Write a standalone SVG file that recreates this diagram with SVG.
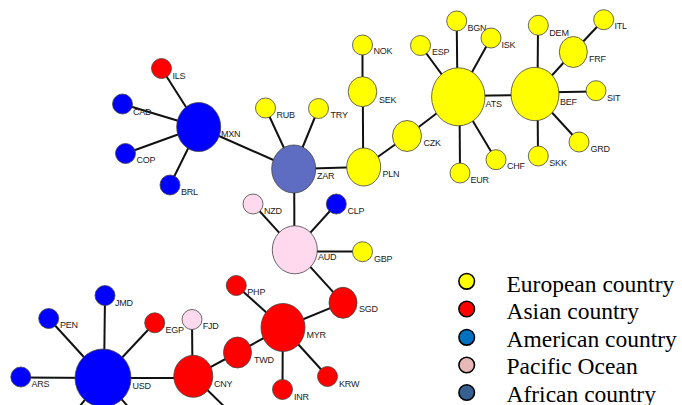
<svg xmlns="http://www.w3.org/2000/svg" width="682" height="405" viewBox="0 0 682 405">
<style>
.e{stroke:#111;stroke-width:2;fill:none}
.n{stroke:#444;stroke-width:0.8}
.y{fill:#ffff00}.r{fill:#ff0000}.b{fill:#0000ff}.z{fill:#5e6cc1}.p{fill:#ffdaef}
.t{font-family:"Liberation Sans",Arial,sans-serif;font-size:9px;fill:#222;letter-spacing:-0.2px}
.lg{font-family:"Liberation Serif","Times New Roman",serif;font-size:23.5px;fill:#000}
.lc{stroke:#000;stroke-width:1.6}
</style>
<rect width="682" height="405" fill="#fff"/>
<g id="connectors">
<line class="e" x1="161.5" y1="68.5" x2="198.7" y2="127"/>
<line class="e" x1="122.5" y1="104" x2="198.7" y2="127"/>
<line class="e" x1="125.5" y1="153.5" x2="198.7" y2="127"/>
<line class="e" x1="170" y1="185" x2="198.7" y2="127"/>
<line class="e" x1="198.7" y1="127" x2="293.7" y2="169"/>
<line class="e" x1="265.5" y1="108" x2="293.7" y2="169"/>
<line class="e" x1="318.5" y1="108.5" x2="293.7" y2="169"/>
<line class="e" x1="293.7" y1="169" x2="363.7" y2="167"/>
<line class="e" x1="362.5" y1="45" x2="362.5" y2="91.7"/>
<line class="e" x1="362.8" y1="91.7" x2="363.2" y2="167"/>
<line class="e" x1="363.7" y1="167" x2="407" y2="136"/>
<line class="e" x1="407" y1="136" x2="458.3" y2="96.8"/>
<line class="e" x1="420.5" y1="45.5" x2="458.3" y2="96.8"/>
<line class="e" x1="456.7" y1="21" x2="457.5" y2="96.8"/>
<line class="e" x1="491" y1="38" x2="458.3" y2="96.8"/>
<line class="e" x1="460" y1="173" x2="459.5" y2="96.8"/>
<line class="e" x1="496" y1="159.7" x2="458.3" y2="96.8"/>
<line class="e" x1="458.3" y1="96" x2="535" y2="95"/>
<line class="e" x1="538" y1="25.3" x2="537.5" y2="94"/>
<line class="e" x1="573.3" y1="52" x2="535" y2="94"/>
<line class="e" x1="603.7" y1="19.7" x2="573.3" y2="52"/>
<line class="e" x1="596" y1="91.5" x2="535" y2="92.5"/>
<line class="e" x1="579" y1="142" x2="535" y2="94"/>
<line class="e" x1="538" y1="156" x2="537.5" y2="94"/>
<line class="e" x1="294.2" y1="169" x2="294.4" y2="249.8"/>
<line class="e" x1="253" y1="204" x2="294.8" y2="249.8"/>
<line class="e" x1="336.3" y1="204" x2="294.8" y2="249.8"/>
<line class="e" x1="294.8" y1="251.5" x2="362.5" y2="251.5"/>
<line class="e" x1="294.8" y1="249.8" x2="343" y2="302.8"/>
<line class="e" x1="343" y1="302.8" x2="283" y2="327.5"/>
<line class="e" x1="236.3" y1="285.5" x2="283" y2="327.5"/>
<line class="e" x1="282.8" y1="327.5" x2="282.5" y2="389.5"/>
<line class="e" x1="327.5" y1="376.5" x2="283" y2="327.5"/>
<line class="e" x1="283" y1="327.5" x2="237.5" y2="352.5"/>
<line class="e" x1="237.5" y1="352.5" x2="193.3" y2="376.3"/>
<line class="e" x1="192" y1="319.5" x2="192.5" y2="376.3"/>
<line class="e" x1="193.3" y1="376.3" x2="236" y2="418"/>
<line class="e" x1="103" y1="378" x2="193.3" y2="378"/>
<line class="e" x1="154.7" y1="322.8" x2="103" y2="378"/>
<line class="e" x1="105" y1="295.5" x2="104" y2="378"/>
<line class="e" x1="48.7" y1="318.5" x2="103" y2="378"/>
<line class="e" x1="20.8" y1="377.5" x2="103" y2="378"/>
<line class="e" x1="103" y1="378" x2="70" y2="418"/>
<line class="e" x1="103" y1="378" x2="138" y2="418"/>
</g>
<g id="ILS"><circle class="n r" cx="161.5" cy="68.5" r="10"/><text class="t" x="172.5" y="79">ILS</text></g>
<g id="CAD"><circle class="n b" cx="122.5" cy="104" r="10"/><text class="t" x="133" y="115">CAD</text></g>
<g id="COP"><circle class="n b" cx="125.5" cy="153.5" r="10"/><text class="t" x="136.5" y="163">COP</text></g>
<g id="BRL"><circle class="n b" cx="170" cy="185" r="10"/><text class="t" x="181" y="195">BRL</text></g>
<g id="MXN"><ellipse class="n b" cx="198.7" cy="127" rx="22" ry="24.5"/><text class="t" x="221" y="137">MXN</text></g>
<g id="RUB"><circle class="n y" cx="265.5" cy="108" r="10"/><text class="t" x="276.5" y="117.5">RUB</text></g>
<g id="TRY"><circle class="n y" cx="318.5" cy="108.5" r="10"/><text class="t" x="330.5" y="118">TRY</text></g>
<g id="ZAR"><ellipse class="n z" cx="293.7" cy="169" rx="22" ry="24"/><text class="t" x="317" y="179">ZAR</text></g>
<g id="NOK"><circle class="n y" cx="362.5" cy="45" r="10"/><text class="t" x="373.5" y="54">NOK</text></g>
<g id="SEK"><ellipse class="n y" cx="362.5" cy="91.7" rx="14.3" ry="15"/><text class="t" x="379" y="102.5">SEK</text></g>
<g id="PLN"><ellipse class="n y" cx="363.7" cy="167" rx="17" ry="19"/><text class="t" x="382.5" y="177">PLN</text></g>
<g id="CZK"><ellipse class="n y" cx="407" cy="136" rx="14.5" ry="15.5"/><text class="t" x="423.5" y="145.5">CZK</text></g>
<g id="ESP"><circle class="n y" cx="420.5" cy="45.5" r="10"/><text class="t" x="432" y="55">ESP</text></g>
<g id="BGN"><circle class="n y" cx="456.7" cy="21" r="10"/><text class="t" x="467.5" y="31">BGN</text></g>
<g id="ISK"><circle class="n y" cx="491" cy="38" r="10"/><text class="t" x="501.5" y="47.5">ISK</text></g>
<g id="ATS"><ellipse class="n y" cx="458.3" cy="96.8" rx="26.7" ry="29"/><text class="t" x="485.5" y="106.5">ATS</text></g>
<g id="EUR"><circle class="n y" cx="460" cy="173" r="10"/><text class="t" x="470.5" y="182.5">EUR</text></g>
<g id="CHF"><circle class="n y" cx="496" cy="159.7" r="10"/><text class="t" x="507" y="169">CHF</text></g>
<g id="BEF"><ellipse class="n y" cx="535" cy="94" rx="24" ry="26.7"/><text class="t" x="560" y="104.5">BEF</text></g>
<g id="DEM"><circle class="n y" cx="538.3" cy="25.3" r="10"/><text class="t" x="549.3" y="35.5">DEM</text></g>
<g id="FRF"><ellipse class="n y" cx="573.3" cy="52" rx="14" ry="15.5"/><text class="t" x="589" y="62">FRF</text></g>
<g id="ITL"><circle class="n y" cx="603.7" cy="19.7" r="10"/><text class="t" x="614.5" y="29.3">ITL</text></g>
<g id="SIT"><circle class="n y" cx="596" cy="90.7" r="10"/><text class="t" x="607" y="100.5">SIT</text></g>
<g id="GRD"><circle class="n y" cx="579" cy="142" r="10"/><text class="t" x="590.5" y="152">GRD</text></g>
<g id="SKK"><circle class="n y" cx="538.3" cy="156" r="10"/><text class="t" x="549.3" y="165.5">SKK</text></g>
<g id="NZD"><circle class="n p" cx="253" cy="204" r="10"/><text class="t" x="264" y="214">NZD</text></g>
<g id="CLP"><circle class="n b" cx="336.3" cy="204" r="10"/><text class="t" x="347.5" y="214">CLP</text></g>
<g id="AUD"><ellipse class="n p" cx="294.8" cy="249.8" rx="22.5" ry="24"/><text class="t" x="318" y="259.5">AUD</text></g>
<g id="GBP"><circle class="n y" cx="362.5" cy="251.7" r="10"/><text class="t" x="374" y="261.5">GBP</text></g>
<g id="SGD"><ellipse class="n r" cx="343" cy="302.8" rx="14" ry="15.5"/><text class="t" x="359" y="312.3">SGD</text></g>
<g id="PHP"><circle class="n r" cx="236.3" cy="285.5" r="10"/><text class="t" x="247.3" y="295">PHP</text></g>
<g id="MYR"><ellipse class="n r" cx="283" cy="327.5" rx="22" ry="24"/><text class="t" x="306.5" y="337.5">MYR</text></g>
<g id="TWD"><ellipse class="n r" cx="237.5" cy="352.5" rx="14" ry="15.5"/><text class="t" x="254" y="362.5">TWD</text></g>
<g id="INR"><circle class="n r" cx="282.5" cy="389.5" r="10"/><text class="t" x="294" y="399.5">INR</text></g>
<g id="KRW"><circle class="n r" cx="327.5" cy="376.5" r="10"/><text class="t" x="339" y="386.5">KRW</text></g>
<g id="FJD"><circle class="n p" cx="192" cy="319.5" r="10"/><text class="t" x="202.7" y="329.3">FJD</text></g>
<g id="CNY"><ellipse class="n r" cx="193.3" cy="376.3" rx="19.5" ry="21"/><text class="t" x="214" y="386.5">CNY</text></g>
<g id="EGP"><circle class="n r" cx="154.7" cy="322.8" r="10"/><text class="t" x="165.5" y="332.5">EGP</text></g>
<g id="JMD"><circle class="n b" cx="105" cy="295.5" r="10"/><text class="t" x="115" y="305.5">JMD</text></g>
<g id="PEN"><circle class="n b" cx="48.7" cy="318.5" r="10"/><text class="t" x="60" y="328">PEN</text></g>
<g id="ARS"><circle class="n b" cx="20.8" cy="377" r="10"/><text class="t" x="31.5" y="387">ARS</text></g>
<g id="USD"><ellipse class="n b" cx="103" cy="378" rx="28" ry="29"/><text class="t" x="132.5" y="388.5">USD</text></g>
<g id="legend">
<circle class="lc" cx="466.7" cy="281.3" r="7.8" fill="#ffff00"/>
<circle class="lc" cx="466.7" cy="309" r="7.8" fill="#ff0000"/>
<circle class="lc" cx="466.7" cy="337.3" r="7.8" fill="#0070c0"/>
<circle class="lc" cx="466.7" cy="365" r="7.8" fill="#e6b9b8"/>
<circle class="lc" cx="466.7" cy="392.5" r="7.8" fill="#376092"/>
<text class="lg" x="506.5" y="291.5">European country</text>
<text class="lg" x="506.5" y="319">Asian country</text>
<text class="lg" x="506.5" y="346.5">American country</text>
<text class="lg" x="506.5" y="374">Pacific Ocean</text>
<text class="lg" x="506.5" y="401.5">African country</text>
</g>
</svg>
